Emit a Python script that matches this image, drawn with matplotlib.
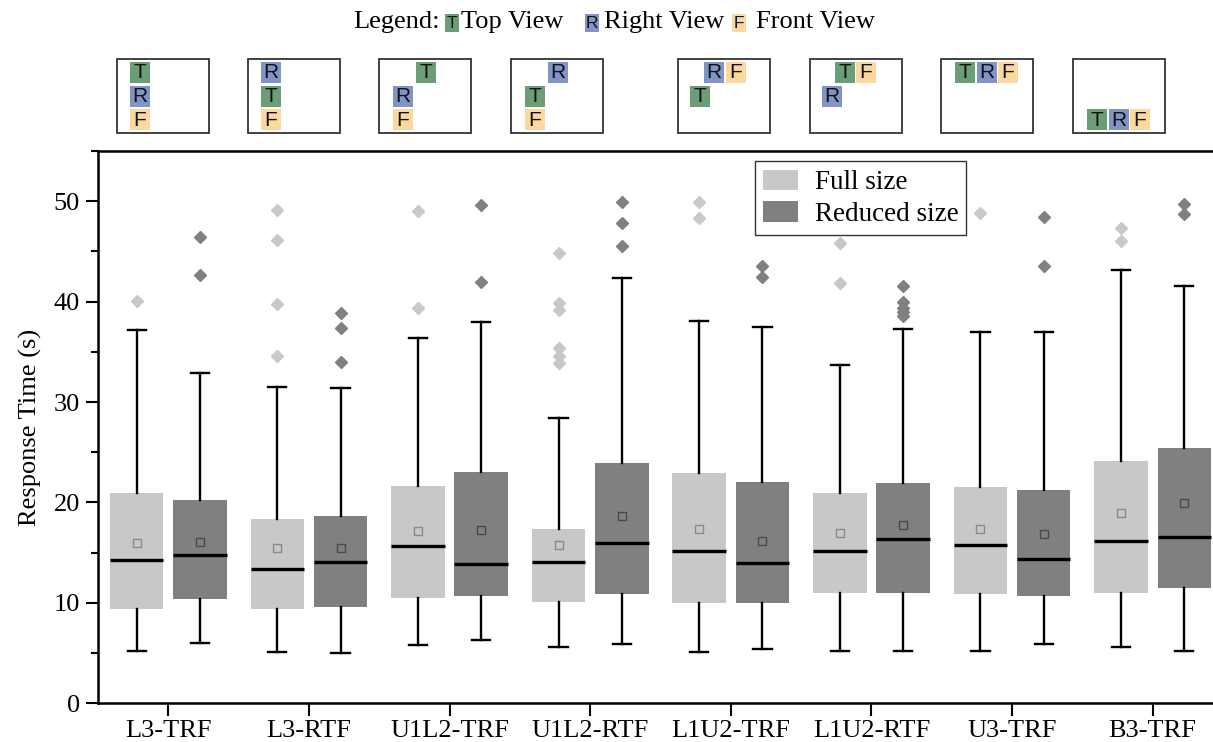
import matplotlib.pyplot as plt
from matplotlib.patches import Patch, Rectangle
from matplotlib.ticker import MultipleLocator

plt.rcParams['font.family'] = ['Liberation Serif', 'DejaVu Serif']

groups = ['L3-TRF', 'L3-RTF', 'U1L2-TRF', 'U1L2-RTF',
          'L1U2-TRF', 'L1U2-RTF', 'U3-TRF', 'B3-TRF']

# full size condition
full_q1 = [9.4, 9.4, 10.5, 10.1, 10.0, 11.0, 10.9, 11.0]
full_med = [14.3, 13.4, 15.7, 14.1, 15.2, 15.2, 15.8, 16.2]
full_q3 = [20.9, 18.4, 21.6, 17.4, 22.9, 20.9, 21.5, 24.1]
full_lo = [5.2, 5.1, 5.8, 5.6, 5.1, 5.2, 5.2, 5.6]
full_hi = [37.2, 31.5, 36.4, 28.4, 38.1, 33.7, 37.0, 43.1]
full_mean = [16.0, 15.5, 17.2, 15.8, 17.4, 17.0, 17.4, 19.0]
full_out = [[40.1], [49.1, 46.1, 39.8, 34.6], [49.0, 39.4],
            [44.8, 39.9, 39.2, 35.4, 34.6, 33.9], [49.9, 48.3],
            [45.8, 41.9], [48.8], [47.3, 46.0]]

# reduced size condition
red_q1 = [10.4, 9.6, 10.7, 10.9, 10.0, 11.0, 10.7, 11.5]
red_med = [14.8, 14.1, 13.9, 16.0, 14.0, 16.4, 14.4, 16.6]
red_q3 = [20.2, 18.7, 23.0, 23.9, 22.0, 21.9, 21.2, 25.4]
red_lo = [6.0, 5.0, 6.3, 5.9, 5.4, 5.2, 5.9, 5.2]
red_hi = [32.9, 31.4, 38.0, 42.4, 37.5, 37.3, 37.0, 41.6]
red_mean = [16.1, 15.5, 17.3, 18.7, 16.2, 17.8, 16.9, 19.9]
red_out = [[46.4, 42.7], [38.9, 37.4, 34.0], [49.6, 42.0],
           [49.9, 47.8, 45.5], [43.5, 42.5], [41.6, 40.0, 39.4, 39.0, 38.6],
           [48.4, 43.5], [49.7, 48.7]]

# view layouts drawn above each group: (letter, x offset px, row)
layouts = [
    [('T', 13, 0), ('R', 13, 1), ('F', 13, 2)],
    [('R', 13, 0), ('T', 13, 1), ('F', 13, 2)],
    [('T', 37, 0), ('R', 14, 1), ('F', 14, 2)],
    [('R', 37, 0), ('T', 14, 1), ('F', 14, 2)],
    [('R', 26, 0), ('F', 48, 0), ('T', 12, 1)],
    [('T', 25, 0), ('F', 46, 0), ('R', 12, 1)],
    [('T', 14, 0), ('R', 36, 0), ('F', 57, 0)],
    [('T', 14, 2), ('R', 36, 2), ('F', 57, 2)],
]
icon_x = [117, 248, 379, 511, 678, 810, 941, 1073]
view_col = {'T': '#6b9d77', 'R': '#8094c7', 'F': '#fcd8a0'}

LIGHT = '#c8c8c8'
DARK = '#808080'


def make_stats(q1, med, q3, lo, hi, mean, out):
    return [dict(q1=a, med=b, q3=c, whislo=d, whishi=e, mean=f, fliers=g)
            for a, b, c, d, e, f, g in zip(q1, med, q3, lo, hi, mean, out)]


W, H = 1213, 742
fig = plt.figure(figsize=(W / 100, H / 100), dpi=100)
ax = fig.add_axes([98 / W, 1 - 703.3 / H, 1125 / W, 552.3 / H])

n = len(groups)
for stats, off, col, mcol in [
        (make_stats(full_q1, full_med, full_q3, full_lo, full_hi, full_mean, full_out), -0.225, LIGHT, '#8a8a8a'),
        (make_stats(red_q1, red_med, red_q3, red_lo, red_hi, red_mean, red_out), 0.225, DARK, '#4a4a4a')]:
    ax.bxp(stats, positions=[i + off for i in range(n)], widths=0.38,
           capwidths=0.13, patch_artist=True, showmeans=True,
           manage_ticks=False,
           boxprops=dict(facecolor=col, edgecolor='none', linewidth=0),
           medianprops=dict(color='black', linewidth=2.4),
           whiskerprops=dict(color='black', linewidth=1.7),
           capprops=dict(color='black', linewidth=1.7),
           flierprops=dict(marker='D', markerfacecolor=col, markeredgecolor=col,
                           markersize=6.5),
           meanprops=dict(marker='s', markerfacecolor='none',
                          markeredgecolor=mcol, markersize=6, markeredgewidth=1))

ax.set_xlim(-0.5, 7.5)
ax.set_ylim(0, 55)
ax.set_xticks(range(n))
ax.set_xticklabels(groups)
ax.yaxis.set_major_locator(MultipleLocator(10))
ax.yaxis.set_minor_locator(MultipleLocator(5))
ax.tick_params(axis='both', which='major', direction='out', length=9,
               width=1.5, labelsize=19, pad=4)
ax.tick_params(axis='y', which='minor', direction='out', length=5, width=1.5)
ax.tick_params(axis='x', pad=3)
for s in ax.spines.values():
    s.set_linewidth(1.8)
ax.set_ylabel('Response Time (s)', fontsize=19, labelpad=8)

ax.legend(handles=[Patch(facecolor=LIGHT, edgecolor='none', label='Full size'),
                   Patch(facecolor=DARK, edgecolor='none', label='Reduced size')],
          loc='upper left', bbox_to_anchor=(0.584, 0.981), fontsize=19.5,
          fancybox=False, framealpha=1, edgecolor='#333333',
          handlelength=1.3, handleheight=0.8, labelspacing=0.2,
          borderpad=0.3, handletextpad=0.6, borderaxespad=0)

# overlay in pixel coordinates for the view legend and layout icons
ov = fig.add_axes([0, 0, 1, 1], zorder=-1)
ov.set_xlim(0, W)
ov.set_ylim(H, 0)
ov.axis('off')

ov.text(353, 22, 'Legend:', fontsize=19, va='center', ha='left')
for letter, cx, label, tx in [('T', 452, 'Top View', 461),
                              ('R', 592, 'Right View', 604),
                              ('F', 739, 'Front View', 756)]:
    ov.add_patch(Rectangle((cx - 7, 14), 14, 18, facecolor=view_col[letter],
                           edgecolor='none'))
    ov.text(cx, 23.5, letter, fontsize=12.5, ha='center', va='center',
            family=['Liberation Sans'], color='#111111')
    ov.text(tx, 22, label, fontsize=19, va='center', ha='left')

for x0, lay in zip(icon_x, layouts):
    ov.add_patch(Rectangle((x0, 59), 92, 74, facecolor='white',
                           edgecolor='#333333', linewidth=1.3))
    for letter, dx, row in lay:
        y0 = 62 + row * 23.5
        ov.add_patch(Rectangle((x0 + dx, y0), 20, 21, facecolor=view_col[letter],
                               edgecolor='none'))
        ov.text(x0 + dx + 10, y0 + 11, letter, fontsize=15, ha='center',
                va='center', family=['Liberation Sans'], color='#111111')

fig.savefig('out.png', dpi=100)
